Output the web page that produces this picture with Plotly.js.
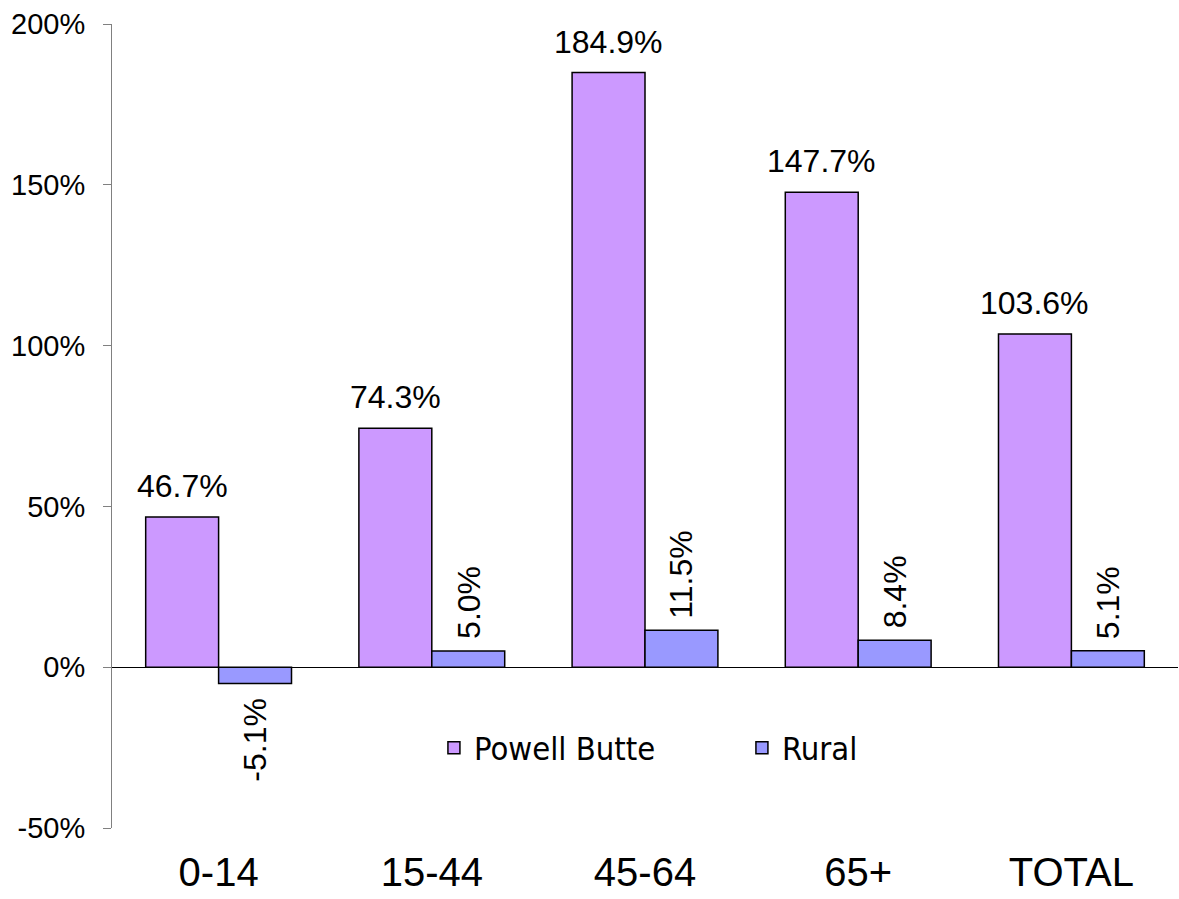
<!DOCTYPE html>
<html>
<head>
<meta charset="utf-8">
<script src="https://cdn.plot.ly/plotly-3.0.1.min.js"></script>
<style>html,body{margin:0;padding:0;background:#fff;}#chart{width:1179px;height:899px;}</style>
</head>
<body>
<div id="chart"></div>
<script>
var categories = ['0-14', '15-44', '45-64', '65+', 'TOTAL'];
var powellButte = [46.7, 74.3, 184.9, 147.7, 103.6];
var rural = [-5.1, 5.0, 11.5, 8.4, 5.1];
var yTickVals = [-50, 0, 50, 100, 150, 200];
var yTickText = ['-50%', '0%', '50%', '100%', '150%', '200%'];
var seriesNames = ['Powell Butte', 'Rural'];

var BARGAP = 0.316;
var off = (1 - BARGAP) / 4;
var labelFont = {family: 'Liberation Sans, Arial, sans-serif', size: 32, color: '#000'};

var traces = [
  {type: 'bar', name: seriesNames[0], x: categories, y: powellButte,
   marker: {color: '#CC99FF', line: {color: '#000', width: 1.5}}, hoverinfo: 'none'},
  {type: 'bar', name: seriesNames[1], x: categories, y: rural,
   marker: {color: '#9999FF', line: {color: '#000', width: 1.5}}, hoverinfo: 'none'}
];

var annotations = [];
categories.forEach(function (c, i) {
  annotations.push({xref: 'x', yref: 'y', x: i - off, y: powellButte[i],
    text: powellButte[i].toFixed(1) + '%', showarrow: false,
    xanchor: 'center', yanchor: 'bottom', yshift: 11, font: labelFont});
  var pos = rural[i] >= 0;
  annotations.push({xref: 'x', yref: 'y', x: i + off, y: rural[i],
    text: rural[i].toFixed(1) + '%', showarrow: false, textangle: -90,
    xanchor: 'center', yanchor: pos ? 'bottom' : 'top', yshift: pos ? 10 : -12, font: labelFont});
});

var layout = {
  width: 1179, height: 899,
  margin: {l: 112, r: 1, t: 24, b: 71, pad: 0},
  paper_bgcolor: '#fff', plot_bgcolor: '#fff',
  barmode: 'group', bargap: BARGAP, bargroupgap: 0,
  showlegend: true,
  legend: {orientation: 'h', x: 0.302, xanchor: 'left', y: 0.0995, yanchor: 'middle',
    font: {family: 'DejaVu Sans Condensed, DejaVu Sans, sans-serif', size: 32.5, color: '#000'},
    bgcolor: 'rgba(0,0,0,0)', entrywidth: 263, entrywidthmode: 'pixels', traceorder: 'normal'},
  xaxis: {type: 'category', showline: false, showgrid: false, zeroline: false, ticks: '',
    tickfont: {family: 'Liberation Sans, Arial, sans-serif', size: 40, color: '#000'},
    ticklabelstandoff: 17, fixedrange: true},
  yaxis: {range: [-50, 200], tickmode: 'array', tickvals: yTickVals, ticktext: yTickText,
    showline: true, linecolor: '#808080', linewidth: 1,
    ticks: 'outside', ticklen: 8, tickcolor: '#808080', tickwidth: 1,
    showgrid: false, zeroline: true, zerolinecolor: '#000', zerolinewidth: 1,
    tickfont: {family: 'Liberation Sans, Arial, sans-serif', size: 29, color: '#000'},
    ticklabelstandoff: 12, fixedrange: true},
  annotations: annotations
};

Plotly.newPlot('chart', traces, layout, {displayModeBar: false, staticPlot: true});
</script>
</body>
</html>
